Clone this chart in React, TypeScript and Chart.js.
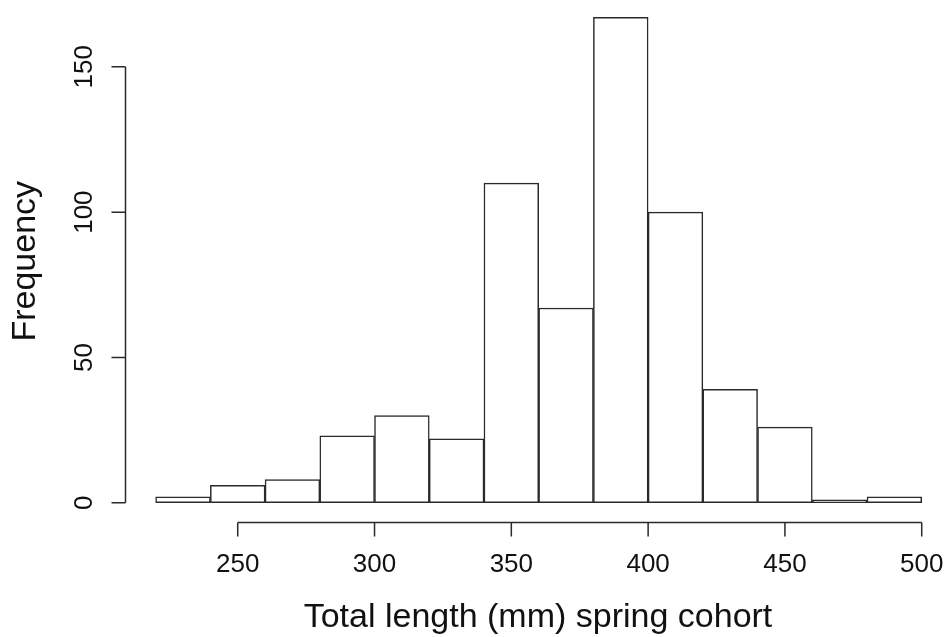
import { useEffect, useRef } from "react";
import { Chart, registerables } from "chart.js";

Chart.register(...registerables);

// Histogram bins (lower edges, mm) and counts
const binStarts = [220, 240, 260, 280, 300, 320, 340, 360, 380, 400, 420, 440, 460, 480];
const binWidth = 20;
const frequencies = [2, 6, 8, 23, 30, 22, 110, 67, 167, 100, 39, 26, 1, 2];
const xTicks = [250, 300, 350, 400, 450, 500];
const yTicks = [0, 50, 100, 150];
const xTitle = "Total length (mm) spring cohort";
const yTitle = "Frequency";

const FONT = "'Liberation Sans', Arial, Helvetica, sans-serif";
const LINE = "#2a2a2a";

const axesPlugin = {
  id: "rAxes",
  afterDraw(chart: any) {
    const { ctx, chartArea, scales } = chart;
    const xs = scales.x;
    const ys = scales.y;
    ctx.save();
    ctx.strokeStyle = LINE;
    ctx.lineWidth = 1.5;
    ctx.lineCap = "butt";
    // y axis
    const ax = chartArea.left + 0.5;
    ctx.beginPath();
    ctx.moveTo(ax, ys.getPixelForValue(yTicks[0]));
    ctx.lineTo(ax, ys.getPixelForValue(yTicks[yTicks.length - 1]));
    yTicks.forEach((v) => {
      const p = ys.getPixelForValue(v);
      ctx.moveTo(ax, p);
      ctx.lineTo(ax - 14, p);
    });
    ctx.stroke();
    // x axis
    const ay = chartArea.bottom;
    ctx.beginPath();
    ctx.moveTo(xs.getPixelForValue(xTicks[0]), ay);
    ctx.lineTo(xs.getPixelForValue(xTicks[xTicks.length - 1]), ay);
    xTicks.forEach((v) => {
      const p = xs.getPixelForValue(v);
      ctx.moveTo(p, ay);
      ctx.lineTo(p, ay + 14);
    });
    ctx.stroke();
    ctx.restore();
  },
};

export default function App() {
  const ref = useRef<HTMLCanvasElement | null>(null);

  useEffect(() => {
    if (!ref.current) return;
    const data = binStarts.map((s, i) => ({ x: s + binWidth / 2, y: frequencies[i] }));
    const chart = new Chart(ref.current, {
      type: "bar",
      data: {
        datasets: [
          {
            label: yTitle,
            data: data as any,
            backgroundColor: "#ffffff",
            borderColor: LINE,
            borderWidth: 1.5,
            borderSkipped: false,
            categoryPercentage: 1,
            barPercentage: 1,
          },
        ],
      },
      options: {
        animation: false,
        responsive: false,
        layout: { padding: 0 },
        plugins: {
          legend: { display: false },
          tooltip: { enabled: false },
        },
        scales: {
          x: {
            type: "linear",
            offset: false,
            min: 208.8,
            max: 510.7,
            grid: { display: false, offset: false },
            border: { display: false },
            afterBuildTicks: (s: any) => {
              s.ticks = xTicks.map((v) => ({ value: v }));
            },
            afterFit: (s: any) => {
              s.height = 114.5;
              s.paddingLeft = 0;
              s.paddingRight = 0;
            },
            ticks: {
              autoSkip: false,
              maxRotation: 0,
              minRotation: 0,
              padding: 19,
              color: "#111",
              font: { family: FONT, size: 26, lineHeight: 1.2 },
              callback: (v: any) => String(v),
            },
            title: {
              display: true,
              text: xTitle,
              color: "#111",
              font: { family: FONT, size: 34, lineHeight: 1 },
              padding: { top: 0, bottom: 2 },
            },
          },
          y: {
            type: "linear",
            min: -6.8,
            max: 173,
            grid: { display: false },
            border: { display: false },
            afterBuildTicks: (s: any) => {
              s.ticks = yTicks.map((v) => ({ value: v }));
            },
            afterFit: (s: any) => {
              s.width = 125;
              s.paddingTop = 0;
              s.paddingBottom = 0;
            },
            ticks: {
              autoSkip: false,
              minRotation: 90,
              maxRotation: 90,
              crossAlign: "center",
              padding: 10,
              color: "#111",
              font: { family: FONT, size: 26, lineHeight: 1.2 },
              callback: (v: any) => String(v),
            },
            title: {
              display: true,
              text: yTitle,
              color: "#111",
              font: { family: FONT, size: 34, lineHeight: 1 },
              padding: { top: 9, bottom: 0 },
            },
          },
        },
      },
      plugins: [axesPlugin],
    });
    return () => chart.destroy();
  }, []);

  return (
    <div style={{ position: "absolute", left: 0, top: 0, width: 951, height: 637, background: "#fff" }}>
      <canvas ref={ref} width={951} height={637} style={{ display: "block" }} />
    </div>
  );
}
